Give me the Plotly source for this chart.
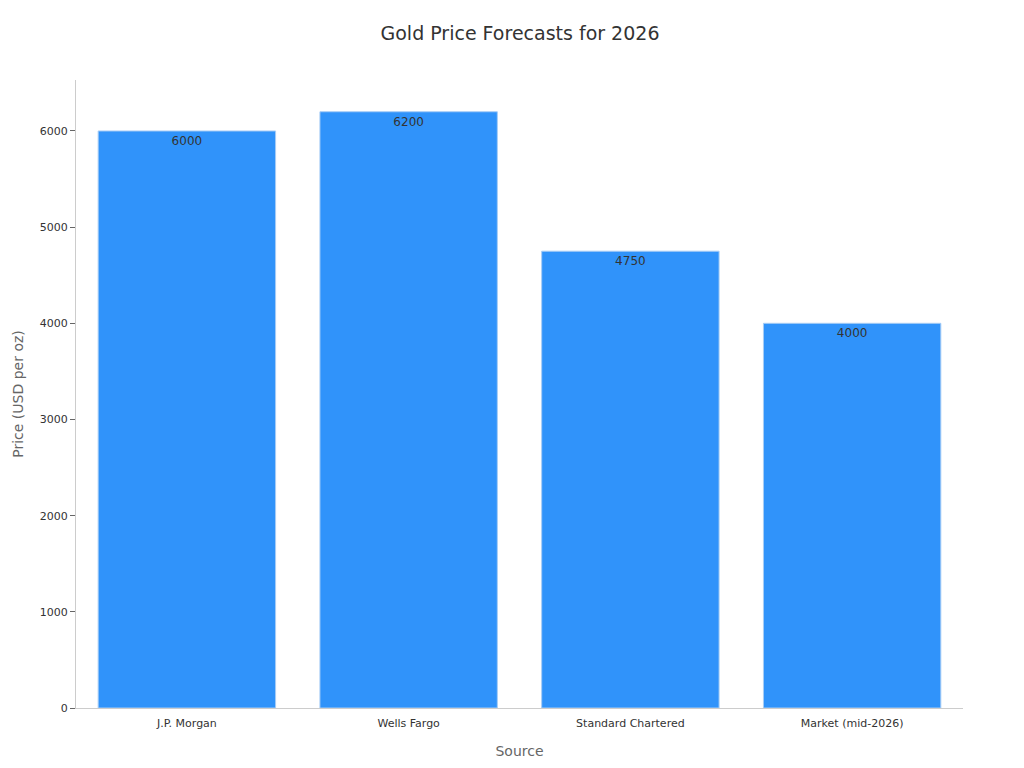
import plotly.graph_objects as go

sources = ["J.P. Morgan", "Wells Fargo", "Standard Chartered", "Market (mid-2026)"]
prices = [6000, 6200, 4750, 4000]

fig = go.Figure(go.Bar(
    x=sources, y=prices,
    text=prices, textposition="inside", insidetextanchor="end",
    textfont=dict(size=12, color="#333333"),
    marker=dict(color="#3093fa", line=dict(color="#a8cdf5", width=1)),
))

fig.update_layout(
    title=dict(text="Gold Price Forecasts for 2026", x=0.5, y=0.976, xanchor="center",
               font=dict(size=19, color="#333333")),
    width=1024, height=768,
    font=dict(family="DejaVu Sans", size=11, color="#333333"),
    plot_bgcolor="white", paper_bgcolor="white",
    margin=dict(l=68, r=69, t=72, b=68),
    bargap=0.2, showlegend=False,
)
fig.update_xaxes(title=dict(text="Source", font=dict(size=14, color="#666666"), standoff=16),
                 showline=True, linecolor="#cccccc", ticks="outside", tickcolor="white",
                 ticklen=5, showgrid=False)
fig.update_yaxes(title=dict(text="Price (USD per oz)", font=dict(size=14, color="#666666"), standoff=12),
                 automargin=False,
                 range=[0, 6530], dtick=1000, showline=True, linecolor="#cccccc",
                 ticks="outside", tickcolor="#666666", ticklen=5, showgrid=False, zeroline=False)

fig.write_html("out.html")
